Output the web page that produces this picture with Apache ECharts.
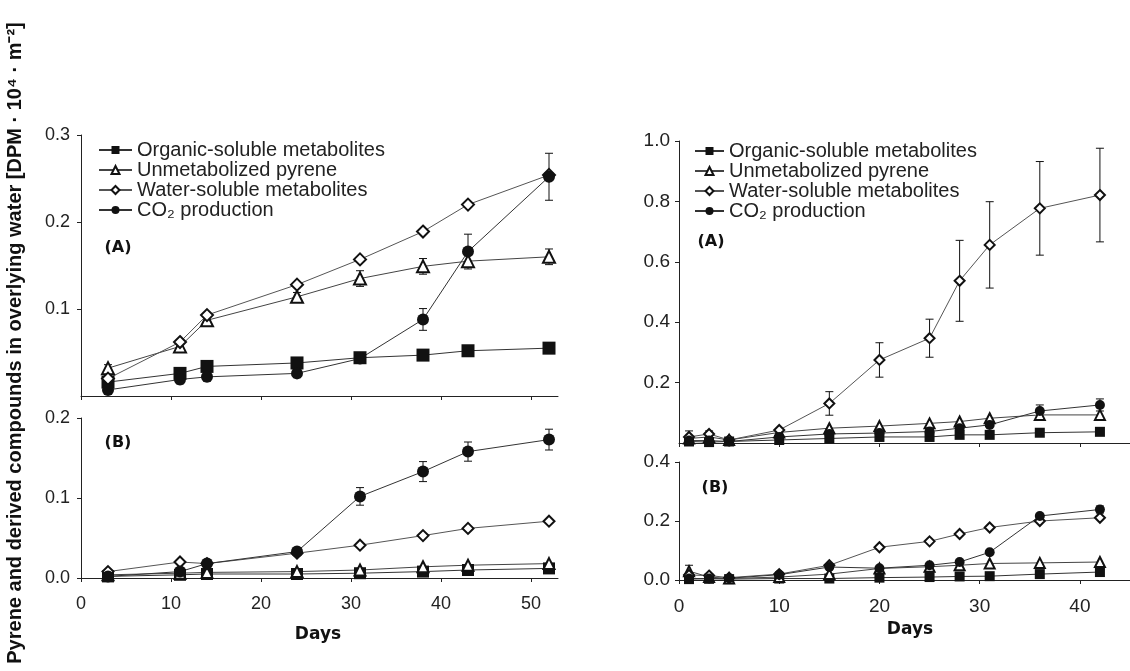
<!DOCTYPE html>
<html>
<head>
<meta charset="utf-8" />
<title>Pyrene</title>
<script src="https://cdn.jsdelivr.net/npm/echarts@6.0.0/dist/echarts.min.js"></script>
<style>
  html, body { margin: 0; padding: 0; background: #fff; }
  #chart { width: 1130px; height: 671px; }
</style>
</head>
<body>
<div id="chart"></div>
<script>
// series names
var ORG = 'Organic-soluble metabolites';
var UNM = 'Unmetabolized pyrene';
var WAT = 'Water-soluble metabolites';
var CO2 = 'CO\u2082 production';

// left figure, days
var leftDays = [3, 11, 14, 24, 31, 38, 43, 52];
// (A)
var orgLA = [0.016, 0.026, 0.034, 0.038, 0.044, 0.047, 0.052, 0.055];
var unmLA = [0.032, 0.057, 0.087, 0.114, 0.135, 0.149, 0.155, 0.160];
var watLA = [0.020, 0.062, 0.093, 0.128, 0.157, 0.189, 0.220, 0.254];
var co2LA = [0.007, 0.019, 0.022, 0.026, 0.043, 0.088, 0.166, 0.252];
var unmErrLA = [0.004, 0.004, 0.004, 0.005, 0.009, 0.009, 0.007, 0.009];
var co2ErrLA = [0.004, 0.005, 0.005, 0.005, 0.003, 0.0125, 0.020, 0.027];
// (B)
var orgLB = [0.002, 0.004, 0.005, 0.005, 0.006, 0.008, 0.010, 0.012];
var unmLB = [0.004, 0.006, 0.007, 0.008, 0.010, 0.014, 0.016, 0.018];
var watLB = [0.008, 0.020, 0.018, 0.031, 0.041, 0.053, 0.062, 0.071];
var co2LB = [0.002, 0.008, 0.018, 0.033, 0.102, 0.133, 0.158, 0.173];
var co2ErrLB = [0, 0, 0, 0.003, 0.011, 0.0125, 0.012, 0.013];

// right figure, days
var rightDays = [1, 3, 5, 10, 15, 20, 25, 28, 31, 36, 42];
// (A)
var orgRA = [0.005, 0.003, 0.005, 0.010, 0.015, 0.020, 0.020, 0.027, 0.027, 0.034, 0.037];
var unmRA = [0.015, 0.020, 0.010, 0.035, 0.049, 0.056, 0.065, 0.071, 0.082, 0.093, 0.093];
var watRA = [0.020, 0.030, 0.010, 0.043, 0.131, 0.275, 0.347, 0.537, 0.656, 0.777, 0.821];
var co2RA = [0.008, 0.008, 0.005, 0.020, 0.030, 0.033, 0.038, 0.049, 0.060, 0.106, 0.126];
var watErrRA = [0.020, 0.010, 0, 0, 0.039, 0.057, 0.063, 0.134, 0.143, 0.155, 0.155];
var co2ErrRA = [0, 0, 0, 0, 0, 0, 0, 0, 0, 0.020, 0.020];
// (B)
var orgRB = [0.003, 0.004, 0.003, 0.005, 0.005, 0.008, 0.010, 0.012, 0.013, 0.020, 0.027];
var unmRB = [0.030, 0.010, 0.005, 0.010, 0.020, 0.039, 0.045, 0.050, 0.056, 0.058, 0.061];
var watRB = [0.017, 0.015, 0.008, 0.020, 0.050, 0.111, 0.131, 0.156, 0.178, 0.200, 0.211];
var co2RB = [0.005, 0.005, 0.006, 0.018, 0.044, 0.040, 0.050, 0.061, 0.094, 0.217, 0.239];
var unmErrRB = [0.020, 0, 0, 0, 0, 0, 0, 0, 0, 0, 0];
var watErrRB = [0, 0, 0, 0, 0, 0.006, 0, 0, 0, 0, 0];
var co2ErrRB = [0, 0, 0, 0, 0, 0, 0, 0, 0, 0, 0.012];

var TXT = '#222';
var FONT = 'Liberation Sans, Arial, sans-serif';

function pairs(days, vals) {
  return days.map(function (d, i) { return [d, vals[i]]; });
}
function errData(days, vals, errs) {
  return days.map(function (d, i) { return [d, vals[i], errs[i]]; })
    .filter(function (p) { return p[2] > 0; });
}

var look = {};
look[ORG] = { symbol: 'rect', line: '#333' };
look[UNM] = { symbol: 'emptyTriangle', line: '#444' };
look[WAT] = { symbol: 'emptyDiamond', line: '#555' };
look[CO2] = { symbol: 'circle', line: '#333' };

function line(name, idx, days, vals, size) {
  return {
    name: name, type: 'line', xAxisIndex: idx, yAxisIndex: idx,
    data: pairs(days, vals), symbol: look[name].symbol, symbolSize: size,
    itemStyle: { color: '#111', borderWidth: 1.2 },
    lineStyle: { color: look[name].line, width: 1 },
    z: 3
  };
}

function errBars(idx, data) {
  return {
    type: 'custom', xAxisIndex: idx, yAxisIndex: idx, data: data, z: 2,
    renderItem: function (params, api) {
      var x = api.value(0), y = api.value(1), e = api.value(2);
      var t = api.coord([x, y + e]), b = api.coord([x, y - e]);
      var s = { stroke: '#111', lineWidth: 1 };
      return {
        type: 'group', children: [
          { type: 'line', shape: { x1: t[0], y1: t[1], x2: b[0], y2: b[1] }, style: s },
          { type: 'line', shape: { x1: t[0] - 4, y1: t[1], x2: t[0] + 4, y2: t[1] }, style: s },
          { type: 'line', shape: { x1: b[0] - 4, y1: b[1], x2: b[0] + 4, y2: b[1] }, style: s }
        ]
      };
    }
  };
}

function xAx(grid, max, labels, size) {
  return {
    type: 'value', gridIndex: grid, min: 0, max: max, interval: 10,
    axisLine: { lineStyle: { color: '#222', width: 1 } },
    axisTick: { length: 4, lineStyle: { color: '#222' }, customValues: [0, 10, 20, 30, 40, 50] },
    axisLabel: { show: labels, customValues: [0, 10, 20, 30, 40, 50], margin: 17,
      color: TXT, fontSize: size, fontFamily: FONT },
    splitLine: { show: false }
  };
}
function yAx(grid, max, interval, showMin, size, margin) {
  return {
    type: 'value', gridIndex: grid, min: 0, max: max, interval: interval,
    axisLine: { show: true, lineStyle: { color: '#222', width: 1 } },
    axisTick: { show: true, length: 4, lineStyle: { color: '#222' } },
    axisLabel: { showMinLabel: showMin, margin: margin, color: TXT, fontSize: size, fontFamily: FONT,
      formatter: function (v) { return v.toFixed(1); } },
    splitLine: { show: false }
  };
}

var names = [ORG, UNM, WAT, CO2];

var series = [
  line(ORG, 0, leftDays, orgLA, 13), line(UNM, 0, leftDays, unmLA, 12),
  line(WAT, 0, leftDays, watLA, 12), line(CO2, 0, leftDays, co2LA, 12),
  line(ORG, 1, leftDays, orgLB, 12), line(UNM, 1, leftDays, unmLB, 11),
  line(WAT, 1, leftDays, watLB, 11), line(CO2, 1, leftDays, co2LB, 12),
  line(ORG, 2, rightDays, orgRA, 10), line(UNM, 2, rightDays, unmRA, 10),
  line(WAT, 2, rightDays, watRA, 10), line(CO2, 2, rightDays, co2RA, 10),
  line(ORG, 3, rightDays, orgRB, 10), line(UNM, 3, rightDays, unmRB, 10),
  line(WAT, 3, rightDays, watRB, 10), line(CO2, 3, rightDays, co2RB, 10),
  errBars(0, errData(leftDays, unmLA, unmErrLA).concat(errData(leftDays, co2LA, co2ErrLA))),
  errBars(1, errData(leftDays, co2LB, co2ErrLB)),
  errBars(2, errData(rightDays, watRA, watErrRA).concat(errData(rightDays, co2RA, co2ErrRA))),
  errBars(3, errData(rightDays, unmRB, unmErrRB).concat(errData(rightDays, watRB, watErrRB))
    .concat(errData(rightDays, co2RB, co2ErrRB)))
];

function panelText(x, y, text, size) {
  return { type: 'text', x: x, y: y,
    style: { text: text, fill: '#111', font: 'bold ' + size + 'px DejaVu Sans, sans-serif',
      textAlign: 'center', textVerticalAlign: 'middle' } };
}

var option = {
  animation: false,
  backgroundColor: '#fff',
  grid: [
    { left: 81, top: 135, width: 477, height: 261 },
    { left: 81, top: 418, width: 477, height: 160 },
    { left: 679, top: 141, width: 480, height: 302 },
    { left: 679, top: 462, width: 480, height: 118 }
  ],
  xAxis: [
    xAx(0, 53, false, 18), xAx(1, 53, true, 18),
    xAx(2, 45, false, 19), xAx(3, 45, true, 19)
  ],
  yAxis: [
    yAx(0, 0.3, 0.1, false, 18, 11), yAx(1, 0.2, 0.1, true, 18, 11),
    yAx(2, 1.0, 0.2, false, 19, 9), yAx(3, 0.4, 0.2, true, 19, 9)
  ],
  legend: [
    { orient: 'vertical', left: 93, top: 135, itemGap: 0, itemWidth: 33, itemHeight: 10,
      selectedMode: false, data: names,
      textStyle: { color: TXT, fontSize: 20, fontFamily: FONT, lineHeight: 19.5 } },
    { orient: 'vertical', left: 689, top: 136, itemGap: 0, itemWidth: 29, itemHeight: 10,
      selectedMode: false, data: names,
      textStyle: { color: TXT, fontSize: 20, fontFamily: FONT, lineHeight: 17.8 } }
  ],
  graphic: [
    panelText(118, 248, '(A)', 16), panelText(118, 443, '(B)', 16),
    panelText(711, 242, '(A)', 16), panelText(715, 488, '(B)', 16),
    panelText(318, 635, 'Days', 17), panelText(910, 630, 'Days', 17),
    { type: 'text', x: 15, y: 343, rotation: Math.PI / 2,
      style: { text: 'Pyrene and derived compounds in overlying water [DPM \u00b7 10\u2074 \u00b7 m\u207b\u00b2]',
        fill: '#111', font: 'bold 20px Liberation Sans, Arial, sans-serif',
        textAlign: 'center', textVerticalAlign: 'middle' } }
  ],
  series: series
};

var myChart = echarts.init(document.getElementById('chart'));
myChart.setOption(option);
</script>
</body>
</html>
